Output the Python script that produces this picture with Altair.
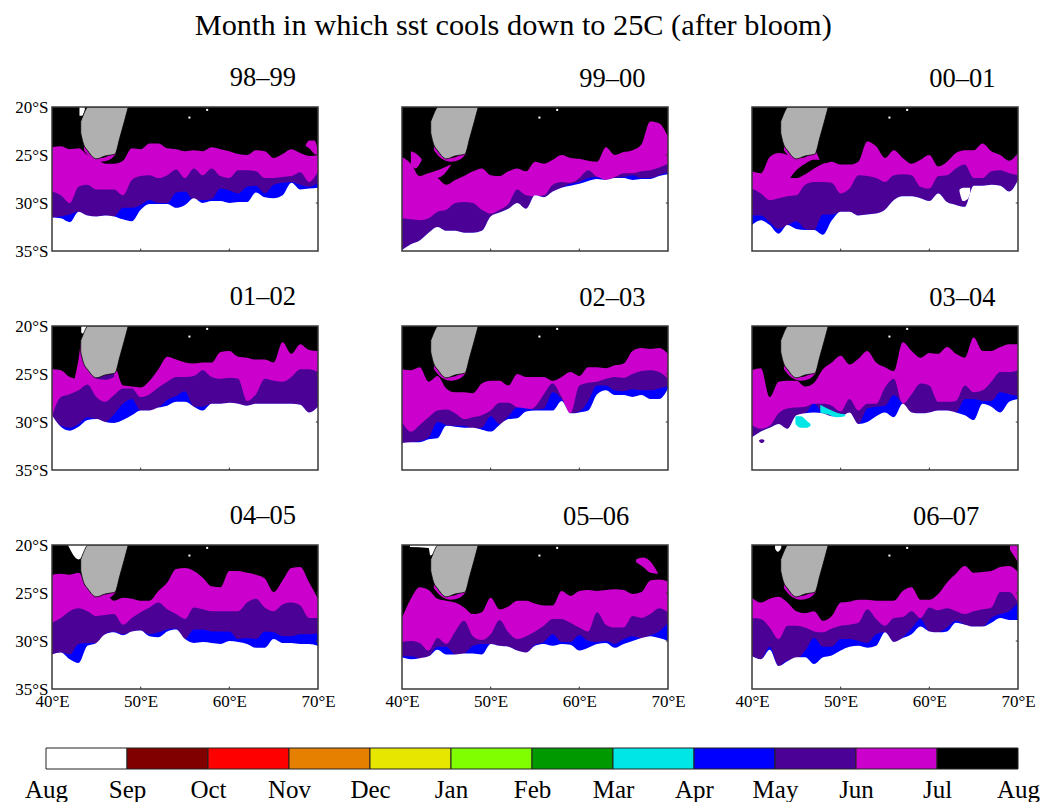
import altair as alt
import pandas as pd

FONT = "Liberation Serif"
LONS = list(range(40, 71))
PURPLE, MAGENTA, BLUE, CYAN = "#4b0096", "#cc00cc", "#0000ff", "#00e6e6"

LABELS = ["98–99", "99–00", "00–01", "01–02", "02–03", "03–04", "04–05", "05–06", "06–07"]

# Latitude (deg S) of each month's northern edge at every degree of longitude, 40E..70E
MAG = [
 [24.2,24.1,24.4,24.3,25.0,25.4,25.9,25.9,25.6,24.3,24.4,23.8,23.8,24.3,24.4,24.6,24.5,24.6,24.2,24.4,24.6,24.9,25.0,24.5,24.6,25.3,24.9,24.4,24.8,25.1,25.0],
 [25.2,25.9,27.2,26.9,27.4,28.1,27.6,27.2,26.7,26.4,27.1,27.2,26.7,26.4,26.7,25.7,25.9,25.5,25.0,25.3,25.4,25.6,25.7,24.2,25.0,24.7,24.5,23.9,21.5,21.7,23.1],
 [26.7,26.9,25.2,24.8,25.0,25.5,25.3,24.5,25.9,25.7,26.0,26.0,25.7,23.6,24.1,25.3,24.5,25.3,25.9,25.5,25.0,26.2,25.7,24.8,24.5,24.5,23.8,24.6,25.0,25.6,24.8],
 [24.5,24.6,25.3,25.5,25.0,24.6,24.5,24.1,26.2,26.3,26.4,25.7,24.5,23.2,23.5,23.8,23.9,23.8,23.8,22.7,22.6,23.2,23.3,23.5,23.5,23.8,21.7,22.9,21.9,22.5,22.6],
 [24.5,24.6,24.3,25.8,25.2,26.5,26.9,26.9,27.0,26.0,25.7,25.7,26.2,25.0,25.3,25.3,25.3,25.7,25.3,24.8,25.2,24.3,24.3,24.4,24.1,23.9,22.6,22.3,22.4,22.3,22.9],
 [24.6,24.4,27.4,25.8,25.7,25.7,26.3,25.9,24.5,23.8,23.1,24.0,23.4,22.6,23.8,24.3,24.7,21.7,22.6,23.3,22.8,22.9,22.2,22.9,23.3,21.2,22.6,22.6,22.2,21.9,21.9],
 [23.1,23.0,23.1,22.9,24.5,25.3,25.1,25.8,25.5,25.6,25.8,25.8,24.8,23.9,22.5,22.4,22.7,23.4,24.3,24.4,22.7,22.7,22.9,23.1,23.5,24.9,23.7,22.4,22.3,23.9,25.6],
 [27.6,25.6,24.4,24.7,25.6,25.8,26.0,26.5,27.2,27.0,25.5,26.7,26.4,25.8,25.8,26.1,26.3,26.3,24.8,25.3,24.8,24.7,24.8,24.7,24.6,24.7,25.1,24.9,23.7,23.6,23.8],
 [25.5,26.0,25.6,25.4,26.0,26.9,27.1,26.9,27.9,27.4,26.0,25.9,25.7,25.7,25.8,25.8,25.8,24.8,24.4,25.7,25.7,25.1,23.9,23.0,22.2,22.9,22.8,22.7,22.3,22.2,22.8],
]
PUR = [
 [28.8,29.2,30.0,28.3,28.1,28.6,28.6,28.6,29.2,27.6,27.2,27.1,27.4,27.1,26.5,27.4,26.4,27.1,26.4,27.2,27.4,26.6,26.6,26.7,27.4,27.4,27.3,27.2,26.8,27.8,26.7],
 [31.6,31.7,31.8,31.6,30.9,30.7,30.0,29.9,30.0,30.7,31.1,30.7,30.1,28.6,29.2,29.3,29.2,28.1,27.8,27.9,27.4,26.6,27.3,27.6,27.3,26.9,26.9,26.7,26.6,26.3,25.9],
 [28.5,29.0,29.7,29.5,29.3,29.2,28.1,27.8,27.8,27.9,29.0,28.5,27.1,27.2,27.4,27.8,27.1,27.0,27.1,28.3,28.5,27.2,27.1,26.4,26.0,27.4,27.4,26.7,26.6,26.9,27.1],
 [29.4,27.4,27.1,26.7,26.1,27.4,27.9,27.2,26.5,26.5,27.4,27.1,26.4,25.8,25.3,25.3,25.2,24.6,25.3,25.5,25.4,25.5,27.8,27.1,25.5,25.7,25.8,25.3,24.5,24.5,24.8],
 [30.0,31.0,30.3,29.5,28.8,28.7,29.1,29.7,29.5,29.3,28.8,28.0,28.0,28.5,28.8,28.4,27.1,26.0,27.4,29.1,26.2,25.9,25.8,25.5,25.3,25.4,25.0,24.7,24.6,24.8,25.5],
 [30.3,30.7,30.4,29.1,28.6,28.5,28.4,28.1,28.1,28.3,28.9,27.6,28.8,28.1,28.1,26.4,25.5,28.1,27.1,26.0,26.2,27.9,27.9,27.8,26.2,26.9,26.7,25.8,24.8,24.8,24.6],
 [28.1,27.6,26.9,26.6,26.9,27.4,27.3,27.2,28.3,27.6,27.0,26.5,26.0,26.7,27.2,27.7,26.5,26.7,26.9,26.9,26.9,26.9,26.0,25.6,26.5,26.9,26.2,26.0,26.3,27.6,27.6],
 [30.1,30.0,30.2,31.0,29.7,30.3,29.0,27.9,29.5,29.9,29.3,27.8,29.1,29.8,29.5,29.0,28.4,27.7,27.7,28.1,28.6,29.0,27.0,28.3,28.6,28.6,27.4,27.6,27.2,26.6,27.0],
 [27.6,27.7,28.6,29.8,28.4,28.4,28.6,29.0,29.1,28.7,28.4,28.3,28.1,26.7,27.7,28.4,27.6,27.5,26.9,27.6,26.5,26.8,26.6,26.9,27.2,26.9,26.7,26.5,24.9,24.9,26.0],
]
BLU = [
 [31.5,31.4,31.2,30.9,31.3,31.4,31.3,31.4,30.5,30.5,30.2,29.7,30.0,30.0,28.9,28.8,29.7,29.7,29.6,28.5,28.7,29.0,28.3,28.2,29.0,28.1,27.9,27.8,28.1,28.3,27.9],
 [34.9,34.3,33.9,33.1,32.5,32.9,32.9,33.1,33.1,32.9,31.4,31.0,30.6,30.0,30.6,29.2,29.4,28.8,28.4,28.0,27.8,27.4,27.3,27.6,27.4,27.3,27.1,27.4,27.4,27.1,26.8],
 [31.3,31.3,32.0,32.7,32.3,31.9,32.7,32.8,31.2,31.2,30.9,30.9,31.3,31.2,31.1,30.7,29.7,29.3,29.3,29.5,29.8,29.0,29.9,30.2,30.4,28.2,28.2,28.1,28.2,28.8,27.6],
 [29.3,30.4,30.6,30.2,29.5,29.7,30.0,29.2,28.1,27.6,28.8,28.8,28.5,27.7,27.3,26.8,28.4,28.4,28.1,28.1,28.0,28.1,28.3,28.1,28.1,28.1,28.1,28.1,28.2,29.0,28.4],
 [32.2,32.1,32.0,31.6,30.0,30.3,30.4,30.4,30.7,30.6,29.4,30.2,29.4,28.5,28.6,28.7,28.6,26.9,27.6,29.1,28.9,27.8,26.2,26.2,26.7,26.8,26.6,26.7,26.7,26.5,26.3],
 [31.6,31.0,30.6,30.2,30.7,29.3,29.1,28.1,29.1,29.4,29.4,29.0,30.2,28.6,28.4,28.3,27.2,28.1,29.0,29.1,29.0,28.8,28.8,29.0,27.6,27.6,27.8,27.8,26.9,27.1,27.3],
 [31.4,31.2,31.4,30.3,30.2,30.2,29.3,29.0,29.3,29.0,28.9,29.3,29.1,28.8,28.7,29.8,28.8,28.8,29.0,29.0,29.0,29.8,29.7,29.8,29.0,29.1,29.5,29.5,29.3,29.3,29.2],
 [31.6,31.6,31.8,31.6,30.6,30.6,31.4,31.3,30.5,30.3,30.3,30.5,30.6,31.0,31.2,30.4,30.1,29.3,30.1,30.1,29.4,30.0,30.1,30.0,30.3,29.8,29.5,29.7,29.4,29.0,28.1],
 [31.6,31.9,30.6,32.6,32.0,31.9,31.0,29.7,30.6,30.6,29.8,29.8,30.0,30.2,29.3,29.1,30.1,29.6,28.7,27.7,29.0,29.1,28.6,27.9,28.3,28.5,28.5,27.6,27.2,26.9,26.0],
]
WHT = [
 [31.5,31.6,32.0,30.9,31.3,31.4,31.3,31.4,31.7,31.9,30.7,30.1,30.1,30.1,30.5,30.2,29.5,30.0,29.8,29.8,30.0,29.9,29.9,28.9,29.4,29.5,29.2,27.9,28.6,28.5,28.4],
 [34.9,34.3,33.9,33.1,32.5,32.9,32.9,33.1,33.1,32.9,31.4,31.0,30.6,30.0,30.6,29.2,29.4,28.8,28.4,28.2,28.0,27.7,27.5,27.6,27.4,27.4,27.6,27.5,27.5,27.2,27.0],
 [32.3,31.8,32.3,33.2,32.3,32.7,32.8,32.8,33.3,31.8,30.9,30.9,31.3,31.2,31.1,30.7,29.7,29.3,29.3,29.5,29.8,29.0,29.9,30.2,30.4,28.2,28.2,28.1,28.2,28.8,27.6],
 [29.3,30.5,30.9,30.5,29.8,29.7,30.0,30.1,29.8,29.3,28.8,28.8,28.5,28.3,27.9,27.9,28.4,28.8,28.1,28.1,28.0,28.1,28.3,28.1,28.1,28.1,28.1,28.1,28.2,29.0,28.4],
 [32.2,32.1,32.1,31.8,31.7,30.4,30.5,30.6,30.6,30.8,31.0,30.3,29.7,29.6,28.9,28.8,28.8,28.8,27.8,29.1,29.0,28.8,27.1,26.7,27.2,27.2,27.4,27.2,27.6,27.6,26.5],
 [31.6,31.0,30.6,30.2,30.7,29.3,29.1,29.0,29.1,29.4,29.4,29.0,30.2,30.0,29.4,29.0,29.5,28.1,29.0,29.1,29.0,28.8,28.8,29.0,29.3,29.8,28.1,28.4,29.0,27.9,27.6],
 [31.4,31.2,31.9,32.3,30.5,30.2,29.3,29.1,29.4,29.0,28.9,29.5,29.6,29.0,28.8,29.8,30.2,30.1,30.2,30.3,30.0,30.1,30.3,30.7,30.7,29.8,30.2,30.2,30.3,30.3,30.5],
 [31.7,31.9,31.8,31.6,30.9,31.4,31.4,31.3,31.3,31.4,30.3,30.5,30.6,31.0,31.2,30.5,30.3,30.5,30.3,30.4,31.0,30.7,30.3,30.2,30.7,30.3,30.0,29.7,29.5,29.7,30.0],
 [31.6,31.9,30.9,32.6,32.1,31.7,31.7,32.4,31.7,31.5,31.0,30.6,30.5,30.7,30.5,29.1,30.1,29.7,29.3,28.5,29.0,29.1,29.0,28.1,28.3,28.5,28.5,28.1,27.6,27.8,27.8],
]

# Smaller features that a single edge per longitude cannot hold: (colour, lon, north lat, south lat)
RIM = (MAGENTA, [43.6, 44.5, 45.5, 46.5, 47.2], [24.0, 25.0, 25.3, 25.0, 24.3], [24.5, 25.4, 25.7, 25.5, 24.9])
PATCHES = [
 [("#cc00cc", [68.6, 69.0, 69.6, 69.9], [24.0, 23.5, 23.5, 24.2], [24.1, 24.3, 24.9, 25.0]),
  ("white", [43.1, 43.4, 43.7], [20, 20, 20], [20.9, 20.9, 20.3])],
 [(MAGENTA, [41, 41.5, 42.2], [24.6, 24.8, 25.4], [26.0, 26.4, 25.6]),
  (MAGENTA, [43, 44, 44.5, 45.5], [26.9, 26.6, 26.4, 26.0], [27.0, 27.4, 27.2, 26.1])],
 [("black", [44.3, 45, 46, 47, 48], [27.4, 26.6, 25.9, 25.5, 25.5], [27.4, 27.4, 27.0, 26.4, 25.9]),
  ("white", [63.4, 63.8, 64.3, 64.6], [28.6, 28.4, 28.4, 28.4], [28.8, 29.8, 29.6, 29.0])],
 [(PURPLE, [45, 46, 47], [25.0, 24.8, 24.6], [25.5, 25.6, 25.3]),
  (MAGENTA, [42.55, 43, 43.4, 44.2], [25.5, 23.5, 21.2, 22.0], [26.0, 26.0, 26.0, 26.0]),
  ("white", [43.3, 43.6, 43.9], [20, 20, 20], [20.7, 20.8, 20.2])],
 [],
 [(CYAN, [47.7, 48.5, 49.5, 50.5], [28.2, 28.6, 29.0, 29.2], [29.0, 29.2, 29.5, 29.4]),
  (CYAN, [44.9, 45.5, 46.2, 46.6], [29.4, 29.4, 29.9, 30.2], [30.2, 30.6, 30.6, 30.4]),
  (PURPLE, [40.8, 41.1, 41.4], [31.9, 31.8, 31.9], [32.0, 32.2, 32.0])],
 [("white", [41.8, 43, 44.1], [20, 20, 20], [20, 21.5, 20])],
 [("white", [40.9, 43, 43.2, 43.8, 44.1], [20, 20, 20, 20, 20], [20.2, 20.3, 21.1, 20.6, 20.2]),
  (MAGENTA, [66.4, 67.2, 68, 68.9], [21.5, 21.3, 21.7, 23.0], [21.8, 22.3, 22.9, 23.0])],
 [(MAGENTA, [69.1, 70], [20, 20], [20.5, 21.8]),
  ("white", [42.6, 42.9, 43.3], [20, 20, 20], [20.4, 20.7, 20.3])],
]

MAD_LON = [43.24, 43.5, 44.07, 45, 46, 47.1, 47.65, 48.6]
MAD_N = [21.5, 20.9, 20, 20, 20, 20, 20, 20]
MAD_S = [22.7, 23.7, 24.6, 25.4, 25.1, 24.9, 23.2, 20]
ISLE_LON = [55.5, 57.5]
ISLE_LAT = [21.1, 20.3]
XTICKS = [40, 50, 60, 70]
YTICKS = [20, 25, 30, 35]

MONTHS = ["Aug", "Sep", "Oct", "Nov", "Dec", "Jan", "Feb", "Mar", "Apr", "May", "Jun", "Jul", "Aug"]
BAR_COLORS = ["#ffffff", "#800000", "#ff0000", "#e68000", "#e6e600", "#80ff00",
              "#009900", "#00e6e6", "#0000ff", "#4b0096", "#cc00cc", "#000000"]

W, H = 266, 144
xs = alt.Scale(domain=[40, 70], nice=False, zero=False)
ys = alt.Scale(domain=[20, 35], nice=False, zero=False, reverse=True)


def panel(i):
    col, row = i % 3, i // 3
    x_axis = alt.Axis(values=XTICKS, labelExpr="datum.value + '°E'", grid=False, ticks=False,
                      domain=False, labelFont=FONT, labelFontSize=17, labelColor="black",
                      labelPadding=4, labelFlush=False, labelOverlap=False) if row == 2 else None
    y_axis = alt.Axis(values=YTICKS, labelExpr="datum.value + '°S'", grid=False, ticks=False,
                      domain=False, labelFont=FONT, labelFontSize=17, labelColor="black",
                      labelPadding=4, labelFlush=False, labelOverlap=False) if col == 0 else None

    def X(field):
        return alt.X(field, type="quantitative", scale=xs, axis=x_axis, title=None)

    def Y(field):
        return alt.Y(field, type="quantitative", scale=ys, axis=y_axis, title=None, stack=None)

    def band(lon, top, bot, color, interp="monotone", **mark):
        df = pd.DataFrame({"lon": lon, "top": top, "bot": bot})
        return alt.Chart(df).mark_area(color=color, clip=True, interpolate=interp,
                                       orient="vertical", **mark).encode(
            x=X("lon"), y=Y("top"), y2=alt.Y2("bot"))

    frame = pd.DataFrame({"x0": [40], "x1": [70], "y0": [20], "y1": [35]})
    bg = alt.Chart(frame).mark_rect(color="black").encode(
        x=X("x0"), x2="x1", y=Y("y0"), y2="y1")
    base = [35] * len(LONS)
    layers = [bg]
    for edges, color in ((MAG, MAGENTA), (PUR, PURPLE), (BLU, BLUE), (WHT, "white")):
        layers.append(band(LONS, edges[i], base, color))
    for c, lo, n, s in [RIM] + PATCHES[i]:
        layers.append(band(lo, n, s, c))
    layers.append(band(MAD_LON, MAD_N, MAD_S, "#b0b0b0", stroke="black", strokeWidth=0.8))
    isles = pd.DataFrame({"lon": ISLE_LON, "lat": ISLE_LAT})
    layers.append(alt.Chart(isles).mark_square(color="white", size=4, opacity=1).encode(
        x=X("lon"), y=Y("lat")))
    ticks_x = pd.DataFrame({"lon": [50, 60], "a": [35, 35], "b": [34.75, 34.75]})
    layers.append(alt.Chart(ticks_x).mark_rule(color="#333333", strokeWidth=1).encode(
        x=X("lon"), y=Y("a"), y2="b"))
    ticks_y = pd.DataFrame({"lon": [69.75, 69.75], "lon2": [70, 70], "lat": [25, 30]})
    layers.append(alt.Chart(ticks_y).mark_rule(color="#333333", strokeWidth=1).encode(
        x=X("lon"), x2="lon2", y=Y("lat")))
    layers.append(alt.Chart(frame).mark_rect(filled=False, stroke="#3a3a3a", strokeWidth=1.5).encode(
        x=X("x0"), x2="x1", y=Y("y0"), y2="y1"))
    return alt.layer(*layers).properties(
        width=W, height=H,
        title=alt.TitleParams(LABELS[i], anchor="start", dx=215 if col == 0 else 178,
                              offset=7 if col == 0 else 14, font=FONT,
                              fontSize=26.5, fontWeight="normal", color="black"))


bar_df = pd.DataFrame({"a": list(range(12)), "b": list(range(1, 13)), "c": BAR_COLORS, "y0": [0] * 12, "y1": [1] * 12})
month_expr = "[" + ",".join(f"'{m}'" for m in MONTHS) + "][datum.value]"
colorbar = alt.Chart(bar_df).mark_rect(stroke="#222222", strokeWidth=1).encode(
    x=alt.X("a:Q", title=None, scale=alt.Scale(domain=[0, 12], range=[-6, 966], nice=False, zero=False),
            axis=alt.Axis(values=list(range(13)), labelExpr=month_expr, grid=False, ticks=False,
                          domain=False, labelFont=FONT, labelFontSize=25, labelColor="black",
                          labelPadding=8, labelFlush=False, labelOverlap=False)),
    x2="b",
    y=alt.Y("y0:Q", title=None, axis=None, scale=alt.Scale(domain=[0, 1], range=[5, -16], nice=False, zero=False)),
    y2="y1",
    color=alt.Color("c:N", scale=None),
).properties(width=W, height=5)

chart = alt.concat(*[panel(i) for i in range(9)], colorbar, columns=3,
                   spacing={"row": 75, "column": 84}, bounds="flush", align="none").properties(
    title=alt.TitleParams("Month in which sst cools down to 25C (after bloom)", anchor="start", dx=180,
                          offset=23, font=FONT, fontSize=30.3, fontWeight="normal", color="black"),
    padding={"left": 6, "top": 3, "right": 0, "bottom": 0},
).configure_view(stroke=None)

chart.save("out.html", embed_options={"renderer": "svg", "actions": False})
